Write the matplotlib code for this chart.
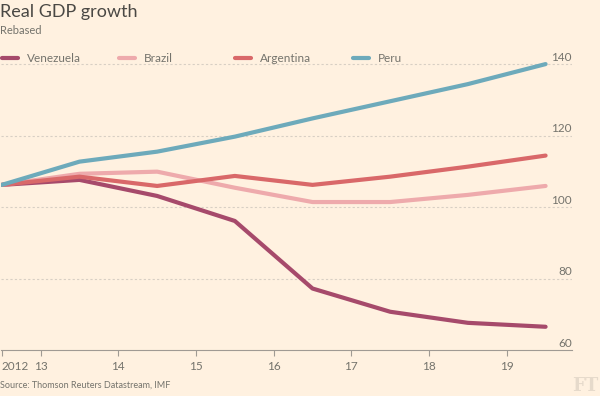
import matplotlib
matplotlib.use('Agg')
import matplotlib.pyplot as plt
from matplotlib.lines import Line2D

plt.rcParams['font.family'] = ['Lato', 'DejaVu Sans']

# mid-year points, 2012 to 2019
years = [2012.5, 2013.5, 2014.5, 2015.5, 2016.5, 2017.5, 2018.5, 2019.5]
venezuela = [106.2, 107.6, 103.1, 96.1, 77.2, 70.7, 67.6, 66.5]
brazil = [106.2, 109.3, 109.9, 105.4, 101.4, 101.4, 103.4, 105.9]
argentina = [106.2, 108.5, 105.9, 108.7, 106.2, 108.5, 111.3, 114.4]
peru = [106.2, 112.7, 115.5, 119.7, 124.8, 129.6, 134.4, 140.0]

names = ['Venezuela', 'Brazil', 'Argentina', 'Peru']
colors = ['#a64a6b', '#eeaaac', '#d96869', '#6daabb']
series = [venezuela, brazil, argentina, peru]

xticks = [2012.5, 2013, 2014, 2015, 2016, 2017, 2018, 2019]
xlabels = ['2012', '13', '14', '15', '16', '17', '18', '19']
yticks = [60, 80, 100, 120, 140]

bg = '#fff1e0'
txt = '#74736c'

fig = plt.figure(figsize=(6, 3.96), dpi=100, facecolor=bg)
ax = fig.add_axes([1/600, 1-350/396, 571/600, (350-48)/396])
ax.set_facecolor(bg)

for vals, c in zip(series, colors):
    ax.plot(years, vals, color=c, lw=3, solid_capstyle='round', zorder=3)

ax.set_xlim(2012.49, 2019.84)
ax.set_ylim(60, 144.5)

for y in yticks[1:]:
    ax.axhline(y, color='#d8cfc4', lw=0.8, ls=(0, (2, 2)), zorder=1)
for y in yticks:
    ax.text(1.0, y + 0.4, str(y), transform=ax.get_yaxis_transform(),
            ha='right', va='bottom', fontsize=8.5, color=txt)

ax.set_yticks([])
ax.set_xticks(xticks)
ax.set_xticklabels(xlabels, fontsize=8.5, color=txt)
ax.get_xticklabels()[0].set_horizontalalignment('left')
ax.tick_params(axis='x', length=4, width=0.8, color='#a09a93', pad=4)
for s in ['top', 'left', 'right']:
    ax.spines[s].set_visible(False)
ax.spines['bottom'].set_color('#a09a93')
ax.spines['bottom'].set_linewidth(0.8)

# legend drawn by hand along the top
leg_x = [0, 117, 233, 351]
for lx, name, c in zip(leg_x, names, colors):
    fig.add_artist(Line2D([(lx + 2)/600, (lx + 18)/600], [1-58/396, 1-58/396],
                          color=c, lw=3, solid_capstyle='round'))
    fig.text((lx + 27)/600, 1-58/396, name, fontsize=8.5, color=txt, va='center')

fig.text(0/600, 1-12/396, 'Real GDP growth', fontsize=13, color='#4a4844', va='center')
fig.text(0/600, 1-31/396, 'Rebased', fontsize=8, color=txt, va='center')
fig.text(0/600, 1-385/396, 'Source: Thomson Reuters Datastream, IMF', fontsize=6.5,
         color=txt, va='center')
fig.text(598/600, 1-386/396, 'FT', fontsize=13, color='#e6dacb', ha='right', va='center',
         family='DejaVu Serif', weight='bold')

fig.savefig('out.png', dpi=100, facecolor=bg)
